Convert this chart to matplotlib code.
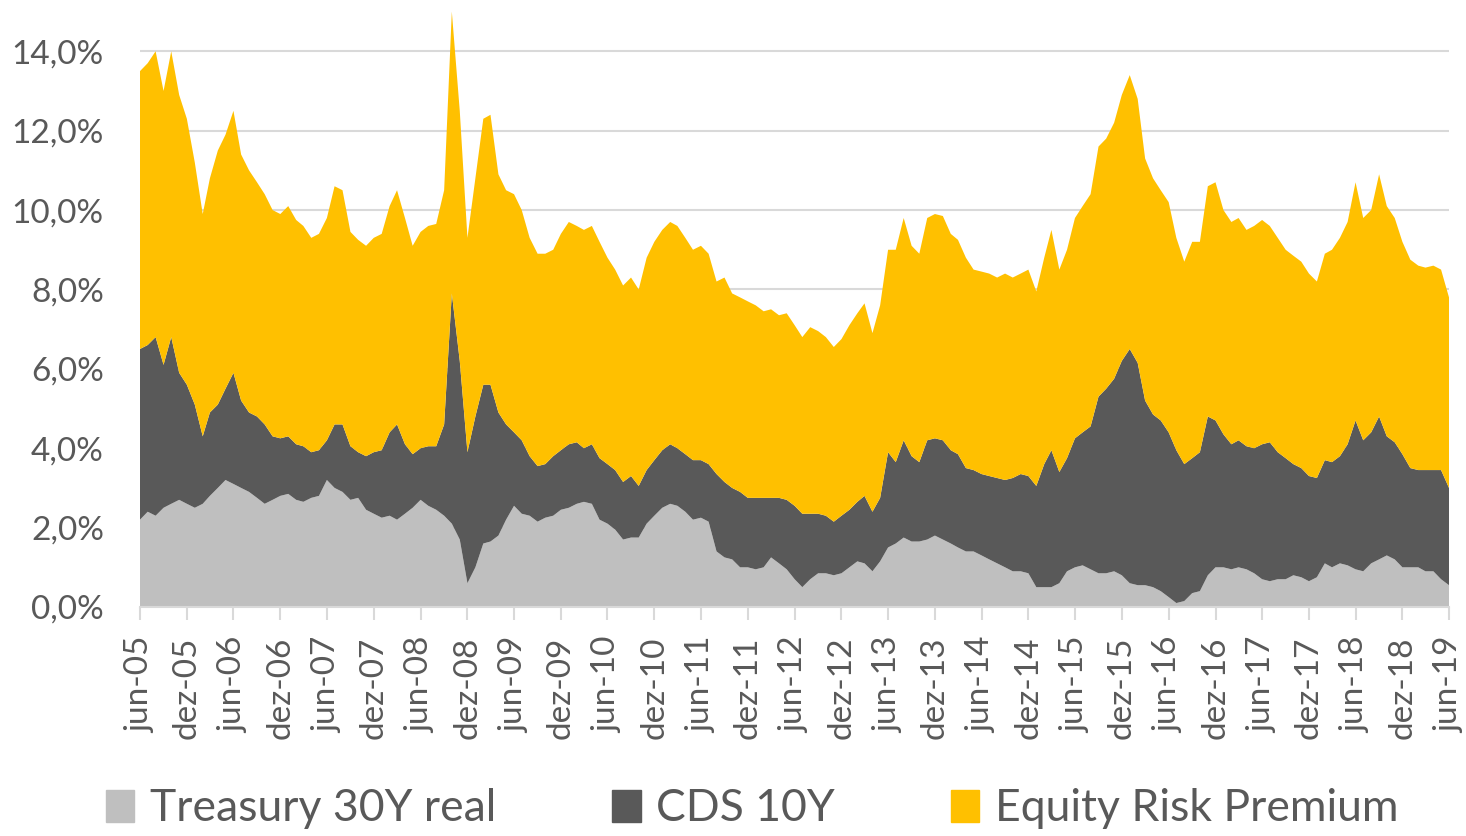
import pandas as pd
import numpy as np
import matplotlib.pyplot as plt
from matplotlib.patches import Patch

plt.rcParams['font.family'] = ['Lato', 'DejaVu Sans']

# monthly, jun-05 .. jun-19 (one row = one year starting in june)
dates = pd.date_range('2005-06-01', '2019-06-01', freq='MS')

treasury = [2.2, 2.4, 2.3, 2.5, 2.6, 2.7, 2.6, 2.5, 2.6, 2.8, 3.0, 3.2,
            3.1, 3.0, 2.9, 2.75, 2.6, 2.7, 2.8, 2.85, 2.7, 2.65, 2.75, 2.8,
            3.2, 3.0, 2.9, 2.7, 2.75, 2.45, 2.35, 2.25, 2.3, 2.2, 2.35, 2.5,
            2.7, 2.55, 2.45, 2.3, 2.1, 1.7, 0.6, 1.0, 1.6, 1.65, 1.8, 2.2,
            2.55, 2.35, 2.3, 2.15, 2.25, 2.3, 2.45, 2.5, 2.6, 2.65, 2.6, 2.2,
            2.1, 1.95, 1.7, 1.75, 1.75, 2.1, 2.3, 2.5, 2.6, 2.55, 2.4, 2.2,
            2.25, 2.15, 1.4, 1.25, 1.2, 1.0, 1.0, 0.95, 1.0, 1.25, 1.1, 0.95,
            0.7, 0.5, 0.7, 0.85, 0.85, 0.8, 0.85, 1.0, 1.15, 1.1, 0.9, 1.15,
            1.5, 1.6, 1.75, 1.65, 1.65, 1.7, 1.8, 1.7, 1.6, 1.5, 1.4, 1.4,
            1.3, 1.2, 1.1, 1.0, 0.9, 0.9, 0.85, 0.5, 0.5, 0.5, 0.6, 0.9,
            1.0, 1.05, 0.95, 0.85, 0.85, 0.9, 0.8, 0.6, 0.55, 0.55, 0.5, 0.4,
            0.25, 0.1, 0.15, 0.35, 0.4, 0.8, 1.0, 1.0, 0.95, 1.0, 0.95, 0.85,
            0.7, 0.65, 0.7, 0.7, 0.8, 0.75, 0.65, 0.75, 1.1, 1.0, 1.1, 1.05,
            0.95, 0.9, 1.1, 1.2, 1.3, 1.2, 1.0, 1.0, 1.0, 0.9, 0.9, 0.7,
            0.55]

cds = [4.3, 4.2, 4.5, 3.6, 4.2, 3.2, 3.0, 2.6, 1.7, 2.1, 2.1, 2.3,
       2.8, 2.2, 2.0, 2.05, 2.0, 1.6, 1.45, 1.45, 1.4, 1.4, 1.15, 1.15,
       1.0, 1.6, 1.7, 1.35, 1.15, 1.35, 1.55, 1.7, 2.1, 2.4, 1.75, 1.35,
       1.3, 1.5, 1.6, 2.3, 5.8, 4.5, 3.3, 3.8, 4.0, 3.95, 3.1, 2.4,
       1.85, 1.85, 1.5, 1.4, 1.35, 1.5, 1.5, 1.6, 1.55, 1.35, 1.5, 1.55,
       1.5, 1.5, 1.45, 1.55, 1.3, 1.35, 1.4, 1.45, 1.5, 1.45, 1.45, 1.5,
       1.45, 1.45, 1.95, 1.9, 1.8, 1.9, 1.75, 1.8, 1.75, 1.5, 1.65, 1.75,
       1.85, 1.85, 1.65, 1.5, 1.45, 1.35, 1.45, 1.45, 1.5, 1.7, 1.5, 1.6,
       2.4, 2.05, 2.45, 2.15, 2.0, 2.5, 2.45, 2.5, 2.35, 2.35, 2.1, 2.05,
       2.05, 2.1, 2.15, 2.2, 2.35, 2.45, 2.45, 2.55, 3.1, 3.45, 2.8, 2.85,
       3.25, 3.35, 3.6, 4.45, 4.65, 4.85, 5.4, 5.9, 5.6, 4.65, 4.35, 4.3,
       4.15, 3.85, 3.45, 3.4, 3.5, 4.0, 3.7, 3.35, 3.15, 3.2, 3.1, 3.15,
       3.4, 3.5, 3.2, 3.05, 2.8, 2.75, 2.65, 2.5, 2.6, 2.65, 2.7, 3.05,
       3.75, 3.3, 3.3, 3.6, 3.0, 2.95, 2.85, 2.5, 2.45, 2.55, 2.55, 2.75,
       2.45]

erp = [7.0, 7.1, 7.2, 6.9, 7.2, 7.0, 6.7, 6.1, 5.6, 5.9, 6.4, 6.4,
       6.6, 6.2, 6.1, 5.9, 5.8, 5.7, 5.65, 5.8, 5.65, 5.55, 5.4, 5.45,
       5.6, 6.0, 5.9, 5.4, 5.35, 5.3, 5.4, 5.45, 5.7, 5.9, 5.7, 5.25,
       5.45, 5.55, 5.6, 5.9, 7.1, 6.3, 5.4, 6.0, 6.7, 6.8, 6.0, 5.9,
       6.0, 5.8, 5.5, 5.35, 5.3, 5.2, 5.45, 5.6, 5.45, 5.5, 5.5, 5.45,
       5.2, 5.05, 4.95, 5.0, 4.95, 5.35, 5.5, 5.55, 5.6, 5.6, 5.45, 5.3,
       5.4, 5.3, 4.85, 5.15, 4.9, 4.9, 4.95, 4.85, 4.7, 4.75, 4.6, 4.7,
       4.55, 4.45, 4.7, 4.6, 4.5, 4.4, 4.45, 4.65, 4.75, 4.85, 4.5, 4.85,
       5.1, 5.35, 5.6, 5.3, 5.25, 5.6, 5.65, 5.65, 5.45, 5.4, 5.3, 5.05,
       5.1, 5.1, 5.05, 5.2, 5.05, 5.05, 5.2, 4.9, 5.2, 5.55, 5.1, 5.25,
       5.55, 5.7, 5.85, 6.3, 6.3, 6.45, 6.7, 6.9, 6.65, 6.1, 5.95, 5.8,
       5.8, 5.35, 5.1, 5.45, 5.3, 5.8, 6.0, 5.65, 5.6, 5.6, 5.45, 5.6,
       5.65, 5.45, 5.4, 5.25, 5.25, 5.2, 5.1, 4.95, 5.2, 5.35, 5.5, 5.6,
       6.0, 5.6, 5.6, 6.1, 5.8, 5.65, 5.35, 5.25, 5.15, 5.1, 5.15, 5.05,
       4.8]

labels = ['Treasury 30Y real', 'CDS 10Y', 'Equity Risk Premium']
colors = ['#bfbfbf', '#595959', '#ffc000']
yticks = [0, 2, 4, 6, 8, 10, 12, 14]

fig = plt.figure(figsize=(14.66, 8.36), dpi=100)
ax = fig.add_axes([0.0955, 0.2739, 0.8929, 0.717])

ax.stackplot(dates, treasury, cds, erp, colors=colors, labels=labels, linewidth=0)

ax.set_xlim(dates[0], dates[-1])
ax.set_ylim(0, 15.1)
ax.set_yticks(yticks)
ax.set_yticklabels([f'{v:.1f}%'.replace('.', ',') for v in yticks])
ax.grid(axis='y', color='#d9d9d9', lw=1.5)
ax.set_axisbelow(True)
for s in ['top', 'right', 'left']:
    ax.spines[s].set_visible(False)
ax.spines['bottom'].set_color('#d9d9d9')
ax.spines['bottom'].set_linewidth(1.5)

tick_dates = dates[::6]
ax.set_xticks(tick_dates)
ax.set_xticklabels([('jun' if d.month == 6 else 'dez') + d.strftime('-%y') for d in tick_dates],
                   rotation=90)
ax.tick_params(axis='x', length=9, width=1.5, color='#d9d9d9', labelsize=24,
               labelcolor='#595959', pad=12)
ax.tick_params(axis='y', length=0, labelsize=24, labelcolor='#595959', pad=26)

handles = [Patch(color=c) for c in colors]
fig.legend(handles, labels, loc='lower center', bbox_to_anchor=(0.513, -0.04), ncol=3,
           frameon=False, fontsize=32, labelcolor='#595959', handlelength=0.65,
           handleheight=0.75, handletextpad=0.35, columnspacing=2.6)

fig.savefig('out.png', dpi=100)
